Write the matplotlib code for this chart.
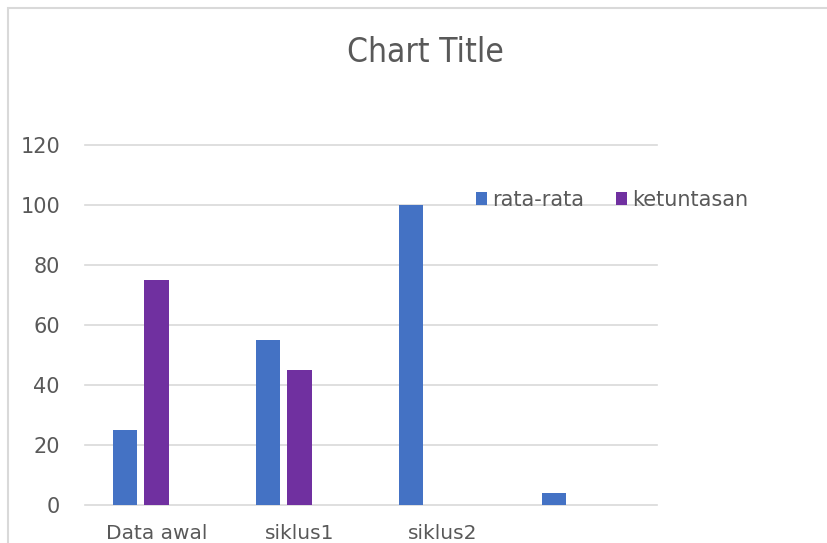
import matplotlib
matplotlib.use("Agg")
import matplotlib.pyplot as plt
import numpy as np

categories = ["Data awal", "siklus1", "siklus2", ""]
rata_rata = [25, 55, 100, 4]
ketuntasan = [75, 45, 0, 0]
series_names = ["rata-rata", "ketuntasan"]
yticks = [0, 20, 40, 60, 80, 100, 120]

plt.rcParams["font.family"] = ["DejaVu Sans"]

text_color = "#595959"
blue = "#4472C4"
purple = "#7030A0"

fig = plt.figure(figsize=(8.28, 5.43), dpi=100)
fig.patch.set_facecolor("white")
W, H = 828, 543
border = plt.Rectangle((8 / W, -0.1), 1.2, 1 - 8 / H + 0.1, transform=fig.transFigure,
                       fill=False, edgecolor="#D9D9D9", linewidth=1.5)
fig.patches.append(border)

ax = fig.add_axes([85 / W, 1 - 505 / H, (657 - 85) / W, (505 - 145) / H])
x = np.arange(len(categories))
bw = 0.168
ax.bar(x - 0.22, rata_rata, width=bw, color=blue, label=series_names[0], zorder=3)
ax.bar(x + 0.0, ketuntasan, width=bw, color=purple, label=series_names[1], zorder=3)

ax.set_xlim(-0.5, len(categories) - 0.5)
ax.set_ylim(0, 120)
ax.set_yticks(yticks)
ax.set_xticks(x)
ax.set_xticklabels(categories)
ax.yaxis.grid(True, color="#D9D9D9", linewidth=1.2, zorder=0)
for gl in ax.get_ygridlines():
    gl.set_clip_on(False)
ax.set_axisbelow(True)
for s in ax.spines.values():
    s.set_visible(False)
ax.tick_params(axis="both", length=0, colors=text_color, labelsize=15)
ax.tick_params(axis="y", pad=18)
ax.tick_params(axis="x", pad=14, labelsize=14.5)
for lab in ax.get_xticklabels():
    lab.set_fontstretch("semi-condensed")

fig.text(425 / W, 1 - 52 / H, "Chart Title", ha="center", va="center",
         fontsize=24, color=text_color, fontstretch="condensed")

leg = ax.legend(loc="center left", bbox_to_anchor=(457 / W, 1 - 200 / H),
                bbox_transform=fig.transFigure, ncol=2, frameon=False,
                fontsize=15, handlelength=0.55, handleheight=0.55,
                handletextpad=0.25, columnspacing=1.5, labelcolor=text_color)

fig.savefig("out.png", dpi=100, facecolor="white")
